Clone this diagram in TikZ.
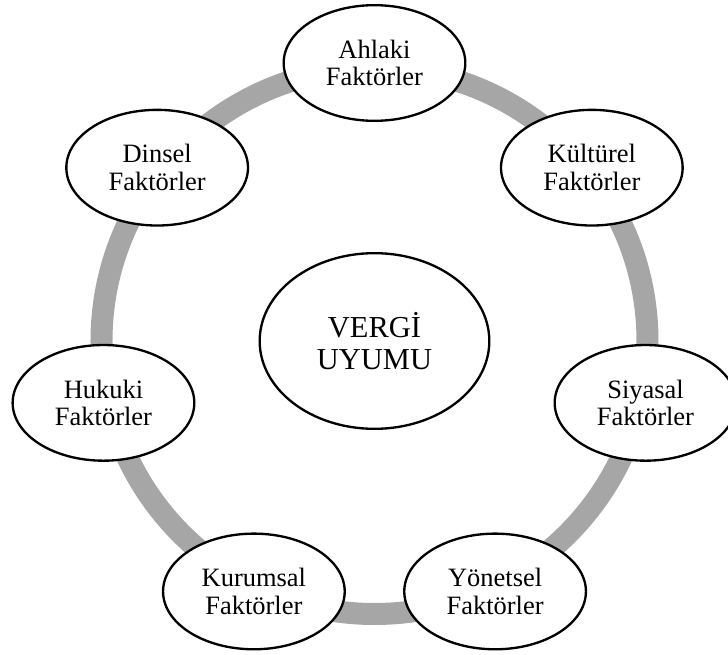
\documentclass[tikz,border=0pt]{standalone}
\usepackage{fontspec}
\setmainfont{Liberation Serif}
\usetikzlibrary{shapes.geometric}
\definecolor{ringgray}{RGB}{166,166,166}
\begin{document}
\begin{tikzpicture}[
    factor/.style={draw,ellipse,fill=white,line width=0.07cm,inner sep=0pt,
      minimum width=5.45cm,minimum height=3.47cm,align=center,
      font=\fontsize{22.6}{23.6}\selectfont},
    ring/.style={draw=ringgray,line width=0.66cm}]
            \useasboundingbox (-11.235,-9.42) rectangle (10.605,10.23);
            \node[draw,ellipse,line width=0.07cm,inner sep=0pt,minimum width=6.89cm,
              minimum height=5.27cm,align=center,
              font=\fontsize{26}{27.3}\selectfont] (V) at (0,0) {VERGİ\\UYUMU};
            \draw[ring] (V.center) circle (8.19);
            \node[factor] (A) at (90:8.34) {Ahlaki\\Faktörler};
            \node[factor] (K) at (38.571:8.34) {Kültürel\\Faktörler};
            \node[factor] (S) at (-12.857:8.34) {Siyasal\\Faktörler};
            \node[factor] (Y) at (-64.286:8.34) {Yönetsel\\Faktörler};
            \node[factor] (R) at (-115.714:8.34) {Kurumsal\\Faktörler};
            \node[factor] (H) at (-167.143:8.34) {Hukuki\\Faktörler};
            \node[factor] (D) at (141.429:8.34) {Dinsel\\Faktörler};
        \end{tikzpicture}
\end{document}
